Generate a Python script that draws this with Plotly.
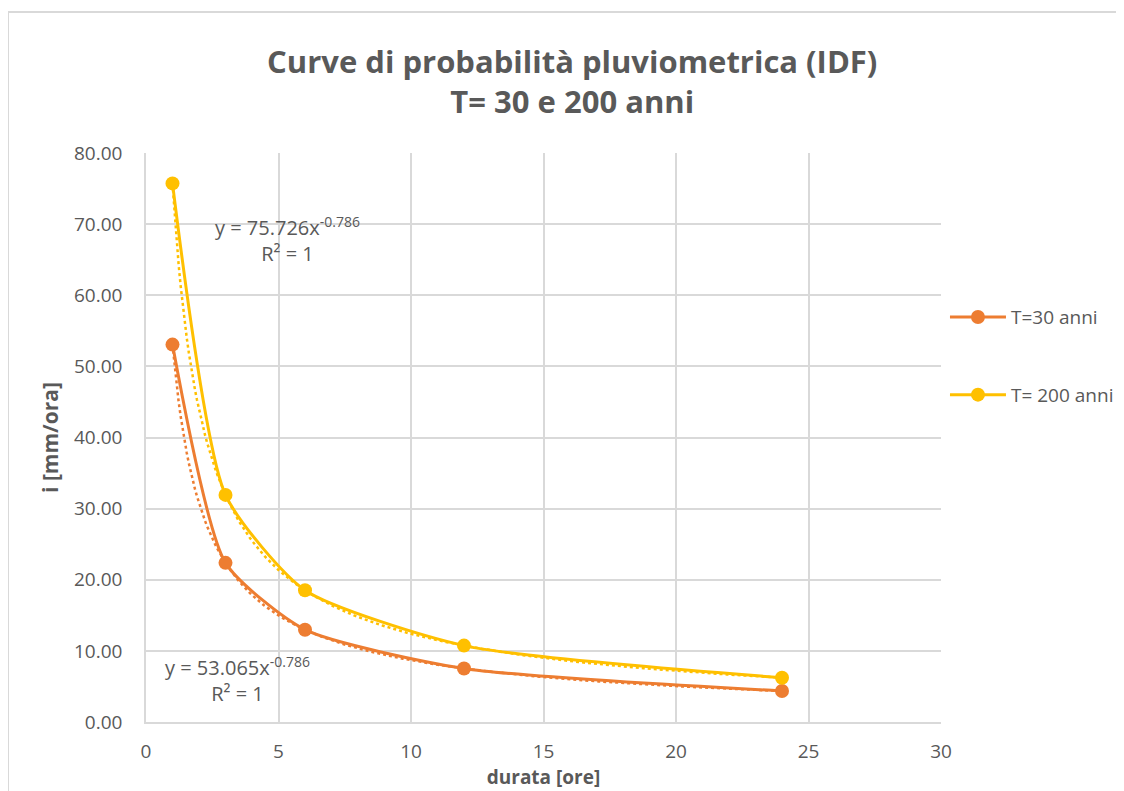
import numpy as np
import plotly.graph_objects as go

durata = [1, 3, 6, 12, 24]
i_T30 = [53.065, 22.376, 12.978, 7.527, 4.365]
i_T200 = [75.726, 31.931, 18.520, 10.742, 6.229]
series_names = ["T=30 anni", "T= 200 anni"]
eq_labels = ["y = 53.065x<sup>-0.786</sup><br>R² = 1",
             "y = 75.726x<sup>-0.786</sup><br>R² = 1"]
colors = ["#ED7D31", "#FFC000"]
x_ticks = [0, 5, 10, 15, 20, 25, 30]
y_ticks = [0, 10, 20, 30, 40, 50, 60, 70, 80]

FONT = "Open Sans"
TXT = "#595959"
GRID = "#D9D9D9"

fig = go.Figure()

def power_fit(x, y):
    b, ln_a = np.polyfit(np.log(x), np.log(y), 1)
    return np.exp(ln_a), b

eq_pos = [(3.45, 6.0), (5.35, 67.8)]
for name, ys, col, pos, lab in zip(series_names, [i_T30, i_T200], colors, eq_pos, eq_labels):
    a, b = power_fit(durata, ys)
    xf = np.linspace(min(durata), max(durata), 300)
    fig.add_trace(go.Scatter(x=xf, y=a * xf ** b, mode="lines",
                             line=dict(color=col, width=2.5, dash="dot"),
                             showlegend=False, hoverinfo="skip"))
    fig.add_annotation(x=pos[0], y=pos[1], xref="x", yref="y",
                       text=lab, showarrow=False, align="center",
                       font=dict(family=FONT, size=20, color=TXT))

for k, (name, ys, col) in enumerate(zip(series_names, [i_T30, i_T200], colors)):
    fig.add_trace(go.Scatter(x=durata, y=ys, mode="lines+markers", name=name,
                             legendgroup=str(k),
                             line=dict(color=col, width=3, shape="spline", smoothing=0.6),
                             marker=dict(color=col, size=14)))

fig.update_layout(
    width=1124, height=791,
    paper_bgcolor="white", plot_bgcolor="white",
    margin=dict(l=138, r=191, t=145, b=77),
    font=dict(family=FONT, color=TXT),
    title=dict(text="<b>Curve di probabilità pluviometrica (IDF)<br>T= 30 e 200 anni</b>",
               x=0.502, xanchor="center", y=0.918, yanchor="middle",
               font=dict(family=FONT, size=31, color=TXT)),
    legend=dict(x=1.005, y=0.745, xanchor="left", yanchor="top",
                font=dict(family=FONT, size=19, color=TXT),
                tracegroupgap=50, bgcolor="rgba(0,0,0,0)", itemwidth=56),
    xaxis=dict(range=[0, 30], tickvals=x_ticks, showgrid=True, gridcolor=GRID, gridwidth=1.5,
               zeroline=False, showline=True, linecolor=GRID, linewidth=1.5, mirror=False,
               tickfont=dict(family=FONT, size=19, color=TXT),
               ticks="outside", ticklen=11, tickcolor="rgba(0,0,0,0)",
               title=dict(text="<b>durata [ore]</b>", font=dict(family=FONT, size=19, color=TXT),
                          standoff=2)),
    yaxis=dict(range=[0, 80], tickvals=y_ticks, tickformat=".2f", showgrid=True, gridcolor=GRID,
               gridwidth=1.5, zeroline=False, showline=True, linecolor=GRID, linewidth=1.5,
               tickfont=dict(family=FONT, size=19, color=TXT),
               ticks="outside", ticklen=18, tickcolor="rgba(0,0,0,0)",
               title=dict(text="<b>i [mm/ora]</b>", font=dict(family=FONT, size=21, color=TXT),
                          standoff=10)),
)

# outer chart-area frame (top and left edges)
fig.add_shape(type="line", xref="paper", yref="paper", x0=-0.1736, x1=1.3, y0=1.2478, y1=1.2478,
              line=dict(color=GRID, width=2))
fig.add_shape(type="line", xref="paper", yref="paper", x0=-0.1736, x1=-0.1736, y0=-0.2, y1=1.2478,
              line=dict(color=GRID, width=2))

fig.write_html("out.html")
